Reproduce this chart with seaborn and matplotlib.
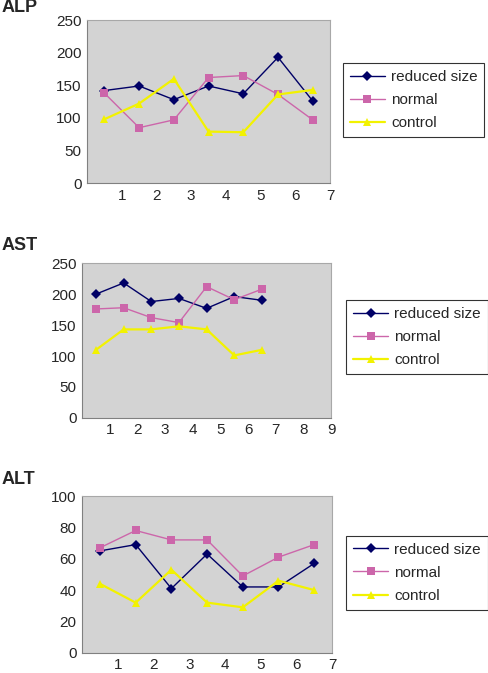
import pandas as pd
import matplotlib
matplotlib.use("Agg")
import matplotlib.pyplot as plt
import seaborn as sns

# Data
x_pos = [0.5, 1.5, 2.5, 3.5, 4.5, 5.5, 6.5]
groups = ["reduced size", "normal", "control"]

alp_reduced = [142, 149, 128, 149, 137, 193, 126]
alp_normal = [138, 85, 97, 162, 165, 136, 97]
alp_control = [98, 122, 160, 79, 78, 136, 143]

ast_reduced = [200, 218, 188, 193, 177, 196, 190]
ast_normal = [176, 178, 162, 154, 212, 191, 208]
ast_control = [110, 143, 143, 148, 143, 101, 110]

alt_reduced = [65, 69, 41, 63, 42, 42, 57]
alt_normal = [67, 78, 72, 72, 49, 61, 69]
alt_control = [44, 32, 53, 32, 29, 46, 40]

sns.set_style("white")
plt.rcParams["font.family"] = ["Liberation Sans", "DejaVu Sans"]

palette = {"reduced size": "#000066", "normal": "#CC66AA", "control": "#F2F200"}
markers = {"reduced size": "D", "normal": "s", "control": "^"}
widths = [1.0, 1.0, 1.6]


def long_form(reduced, normal, control):
    rows = []
    for name, vals in zip(groups, [reduced, normal, control]):
        for x, v in zip(x_pos, vals):
            rows.append({"x": x, "value": v, "group": name})
    return pd.DataFrame(rows)


# title, data, axes rect, xmax, ymax, ystep, legend anchor, title y (px from top)
panels = [
    ("ALP", long_form(alp_reduced, alp_normal, alp_control), [0.178, 0.728, 0.497, 0.242], 7, 250, 50,
     (0.701, 0.796), 7),
    ("AST", long_form(ast_reduced, ast_normal, ast_control), [0.168, 0.379, 0.509, 0.230], 9, 250, 50,
     (0.708, 0.444), 246),
    ("ALT", long_form(alt_reduced, alt_normal, alt_control), [0.168, 0.030, 0.511, 0.233], 7, 100, 20,
     (0.708, 0.094), 480),
]

fig = plt.figure(figsize=(4.89, 6.73), dpi=100)

for title, df, rect, xmax, ymax, ystep, leg_pos, title_px in panels:
    ax = fig.add_axes(rect)
    ax.set_facecolor("#D3D3D3")
    sns.lineplot(data=df, x="x", y="value", hue="group", style="group",
                 hue_order=groups, style_order=groups, palette=palette,
                 markers=markers, dashes=False, markersize=5.5,
                 markeredgewidth=0, ax=ax)
    for line, lw in zip(ax.lines, widths):
        line.set_linewidth(lw)
    ax.set_xlim(0, xmax)
    ax.set_ylim(0, ymax)
    ax.set_xticks(range(1, xmax + 1))
    ax.set_yticks(range(0, ymax + 1, ystep))
    ax.set_xlabel("")
    ax.set_ylabel("")
    for side in ["top", "right"]:
        ax.spines[side].set_color("#A8A8A8")
        ax.spines[side].set_linewidth(0.8)
    for side in ["left", "bottom"]:
        ax.spines[side].set_color("#808080")
        ax.spines[side].set_linewidth(0.8)
    ax.tick_params(axis="both", direction="out", length=3, width=0.8,
                   color="#808080", labelsize=11, pad=1)

    handles, labels = ax.get_legend_handles_labels()
    ax.get_legend().remove()
    for h, lw in zip(handles, widths):
        h.set_linewidth(lw)
    leg = fig.legend(handles, labels, loc="lower left", bbox_to_anchor=leg_pos,
                     borderaxespad=0, frameon=True, fancybox=False, fontsize=11,
                     handlelength=2.3, borderpad=0.45, labelspacing=0.6,
                     handletextpad=0.4)
    leg.get_frame().set_edgecolor("black")
    leg.get_frame().set_linewidth(0.8)

    fig.text(0.004, 1 - title_px / 673, title, fontsize=13,
             fontweight="bold", ha="left", va="center")

fig.savefig("out.png", dpi=100)
